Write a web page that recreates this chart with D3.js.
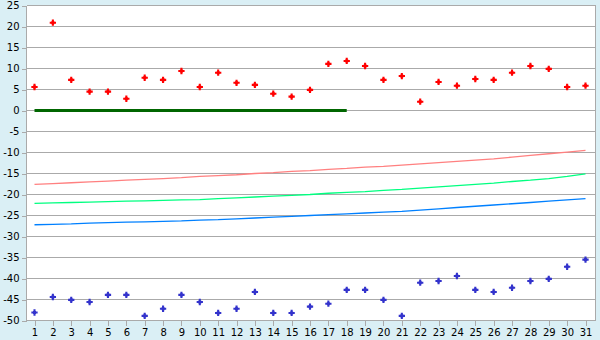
<!DOCTYPE html>
<html>
<head>
<meta charset="utf-8">
<script src="https://cdn.jsdelivr.net/npm/d3@7"></script>
<style>
  body { margin: 0; background: #daeff5; }
  svg { display: block; }
</style>
</head>
<body>
<div id="chart"></div>
<script>
var width = 600,
    height = 340;

// data
var days = d3.range(1, 32);
var yTicks = [-50, -45, -40, -35, -30, -25, -20, -15, -10, -5, 0, 5, 10, 15, 20, 25];

var redPoints = [5.6, 20.9, 7.3, 4.5, 4.5, 2.8, 7.8, 7.3, 9.4, 5.6,
                 9.0, 6.6, 6.1, 4.0, 3.3, 4.9, 11.1, 11.8, 10.6, 7.3,
                 8.2, 2.1, 6.8, 5.9, 7.5, 7.3, 9.0, 10.6, 9.9, 5.6, 5.9];
var bluePoints = [-48.1, -44.4, -45.1, -45.6, -43.9, -43.9, -48.9, -47.2, -43.9, -45.6,
                  -48.2, -47.2, -43.2, -48.2, -48.2, -46.7, -46.0, -42.7, -42.7, -45.1,
                  -48.9, -41.0, -40.6, -39.4, -42.7, -43.2, -42.2, -40.6, -40.1, -37.2, -35.5];
var zeroLine = [0, 0, 0, 0, 0, 0, 0, 0, 0, 0, 0, 0, 0, 0, 0, 0, 0, 0];
var redLine = [-17.6, -17.4, -17.2, -17.0, -16.8, -16.6, -16.4, -16.2, -16.0, -15.7,
               -15.5, -15.3, -15.0, -14.8, -14.5, -14.3, -14.0, -13.8, -13.5, -13.3,
               -13.0, -12.7, -12.4, -12.1, -11.8, -11.5, -11.1, -10.7, -10.3, -9.9, -9.5];
var greenLine = [-22.1, -22.0, -21.9, -21.8, -21.7, -21.6, -21.5, -21.4, -21.3, -21.2,
                 -21.0, -20.8, -20.6, -20.4, -20.2, -20.0, -19.7, -19.5, -19.3, -19.0,
                 -18.8, -18.5, -18.2, -17.9, -17.6, -17.3, -16.9, -16.6, -16.2, -15.7, -15.1];
var blueLine = [-27.2, -27.1, -27.0, -26.8, -26.7, -26.6, -26.5, -26.4, -26.3, -26.1,
                -26.0, -25.8, -25.6, -25.4, -25.2, -25.0, -24.8, -24.6, -24.4, -24.2,
                -24.0, -23.7, -23.4, -23.1, -22.8, -22.5, -22.2, -21.9, -21.6, -21.3, -21.0];

var plotLeft = 26.5, plotRight = 595.5, plotTop = 5.5, plotBottom = 320.5;

var x = d3.scalePoint()
    .domain(days)
    .range([34.5, 585.5]);

var y = d3.scaleLinear()
    .domain([-50, 25])
    .range([plotBottom, plotTop]);

var svg = d3.select("#chart").append("svg")
    .attr("width", width)
    .attr("height", height)
    .attr("font-family", "'DejaVu Sans', Verdana, sans-serif")
    .attr("font-size", 10);

svg.append("rect")
    .attr("width", width)
    .attr("height", height)
    .attr("fill", "#daeff5");

svg.append("rect")
    .attr("x", plotLeft)
    .attr("y", plotTop)
    .attr("width", plotRight - plotLeft)
    .attr("height", plotBottom - plotTop)
    .attr("fill", "#fff");

// gridlines
svg.append("g")
    .selectAll("line")
    .data(yTicks)
    .join("line")
    .attr("x1", plotLeft)
    .attr("x2", plotRight)
    .attr("y1", d => y(d))
    .attr("y2", d => y(d))
    .attr("stroke", "#aaa")
    .attr("shape-rendering", "crispEdges");

// right border
svg.append("line")
    .attr("x1", plotRight).attr("x2", plotRight)
    .attr("y1", plotTop).attr("y2", plotBottom)
    .attr("stroke", "#aaa")
    .attr("shape-rendering", "crispEdges");

// y axis
var yAxis = svg.append("g")
    .attr("transform", `translate(${plotLeft},0)`)
    .call(d3.axisLeft(y).tickValues(yTicks).tickSize(5).tickPadding(2).tickFormat(d => String(d).replace("\u2212", "-")));

// x axis
var xAxis = svg.append("g")
    .attr("transform", `translate(0,${plotBottom})`)
    .call(d3.axisBottom(x).tickSize(5).tickPadding(3).tickSizeOuter(0));
xAxis.select(".domain").attr("d", `M${plotLeft},0H${plotRight}`);

[yAxis, xAxis].forEach(function (a) {
    a.attr("font-family", null).attr("font-size", null);
    a.selectAll("line, path").attr("stroke", "#aaa").attr("shape-rendering", "crispEdges");
    a.selectAll("text").attr("fill", "#000");
});
yAxis.select(".domain").attr("d", `M0,${plotTop}V${plotBottom}`);

// trend lines
var line = d3.line()
    .x((d, i) => x(days[i]))
    .y(d => y(d));

svg.append("g")
    .attr("fill", "none")
    .selectAll("path")
    .data([
        { values: redLine, color: "#ff8080" },
        { values: greenLine, color: "#00ff80" },
        { values: blueLine, color: "#0080ff" }
    ])
    .join("path")
    .attr("stroke", d => d.color)
    .attr("stroke-width", 1.3)
    .attr("d", d => line(d.values));

svg.append("path")
    .attr("fill", "none")
    .attr("stroke", "#006600")
    .attr("stroke-width", 3)
    .attr("d", line(zeroLine));

// markers
var cross = d3.symbol().type(d3.symbolCross).size(22);
var dot = d3.symbol().type(d3.symbolSquare).size(9);

function markers(data, color) {
    var g = svg.append("g")
        .attr("fill", color)
        .selectAll("g")
        .data(data)
        .join("g")
        .attr("transform", (d, i) => `translate(${x(days[i])},${y(d)})`);
    g.append("path").attr("d", cross);
    g.append("path").attr("d", dot);
}

markers(redPoints, "#ff0000");
markers(bluePoints, "#3333cc");
</script>
</body>
</html>
